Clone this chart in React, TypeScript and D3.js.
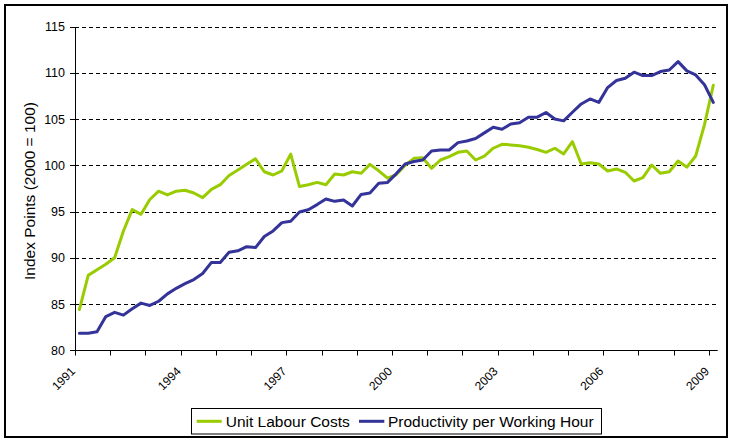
import React from "react";
import * as d3 from "d3";

// ---- data ----
const years = [1991, 1992, 1993, 1994, 1995, 1996, 1997, 1998, 1999, 2000, 2001, 2002, 2003, 2004, 2005, 2006, 2007, 2008, 2009];
const quarterNames = ["Q1", "Q2", "Q3", "Q4"];
const quarters: string[] = years.flatMap((y) => quarterNames.map((q) => `${y}${q}`)).slice(0, 73);

const unitLabourCosts = [
  84.4, 88.1, 88.7, 89.3, 90.0, 92.9, 95.2, 94.7, 96.3, 97.2, 96.8, 97.2, 97.3, 97.0, 96.5, 97.4,
  97.9, 98.9, 99.5, 100.1, 100.7, 99.3, 98.95, 99.4, 101.2, 97.7, 97.9, 98.15, 97.9, 99.05, 98.95, 99.3,
  99.13, 100.1, 99.4, 98.6, 99.0, 100.0, 100.75, 100.8, 99.67, 100.57, 100.93, 101.4, 101.55, 100.57, 101.0, 101.84,
  102.27, 102.2, 102.1, 101.95, 101.7, 101.4, 101.84, 101.22, 102.55, 100.14, 100.28, 100.14, 99.38, 99.6, 99.24, 98.3,
  98.66, 100.03, 99.13, 99.3, 100.46, 99.8, 101.0, 104.4, 108.65,
];

const productivity = [
  81.85, 81.85, 82.0, 83.65, 84.1, 83.8, 84.5, 85.1, 84.85, 85.3, 86.1, 86.7, 87.2, 87.65, 88.3, 89.5,
  89.5, 90.6, 90.75, 91.2, 91.1, 92.3, 92.9, 93.8, 93.95, 94.95, 95.2, 95.75, 96.35, 96.1, 96.25, 95.6,
  96.85, 97.0, 98.05, 98.15, 99.1, 100.14, 100.4, 100.57, 101.55, 101.65, 101.65, 102.45, 102.63, 102.9, 103.5, 104.1,
  103.9, 104.47, 104.6, 105.2, 105.2, 105.7, 105.0, 104.8, 105.73, 106.63, 107.17, 106.8, 108.4, 109.16, 109.4, 110.06,
  109.7, 109.7, 110.13, 110.3, 111.2, 110.2, 109.77, 108.7, 106.8,
];

const yTicks = [80, 85, 90, 95, 100, 105, 110, 115];

const seriesNames = ["Unit Labour Costs", "Productivity per Working Hour"];
const seriesColors = ["#99CC00", "#333399"];

// ---- layout ----
const W = 734;
const H = 444;
const LEFT = 75;
const RIGHT = 717.7;
const TOP = 26.5;
const BOTTOM = 350.3;
const FONT = "'Liberation Sans', Arial, Helvetica, sans-serif";

export default function App() {
  const x = d3.scaleBand<string>().domain(quarters).range([LEFT, RIGHT]).padding(0);
  const y = d3.scaleLinear().domain([80, 115]).range([BOTTOM, TOP]);
  const cx = (q: string) => (x(q) as number) + x.bandwidth() / 2;

  const line = d3
    .line<number>()
    .x((_, i) => cx(quarters[i]))
    .y((d) => y(d));

  const series = [unitLabourCosts, productivity];
  const crisp = (v: number) => Math.round(v) + 0.5;

  return (
    <svg
      width={W}
      height={H}
      style={{ position: "absolute", left: 0, top: 0, background: "#fff" }}
      fontFamily={FONT}
    >
      <rect x={5} y={5} width={722} height={432} fill="#fff" stroke="#000" strokeWidth={2} />

      {/* gridlines */}
      {yTicks
        .filter((v) => v !== 80)
        .map((v) => (
          <line
            key={`g${v}`}
            x1={LEFT}
            x2={RIGHT}
            y1={crisp(y(v))}
            y2={crisp(y(v))}
            stroke="#000"
            strokeWidth={1}
            strokeDasharray="4,3"
          />
        ))}

      {/* y axis */}
      <line x1={LEFT + 0.5} x2={LEFT + 0.5} y1={crisp(y(115))} y2={crisp(y(80))} stroke="#000" strokeWidth={1} />
      {yTicks.map((v) => (
        <g key={`yt${v}`}>
          <line x1={LEFT - 5} x2={LEFT} y1={crisp(y(v))} y2={crisp(y(v))} stroke="#000" strokeWidth={1} />
          <text x={65} y={y(v)} dy="0.36em" textAnchor="end" fontSize={12.5} fill="#000">
            {v}
          </text>
        </g>
      ))}

      {/* x axis */}
      <line x1={LEFT} x2={RIGHT} y1={crisp(y(80))} y2={crisp(y(80))} stroke="#000" strokeWidth={1} />
      {quarters.map((q, i) =>
        i % 4 === 0 ? (
          <line
            key={`xt${q}`}
            x1={crisp(x(q) as number)}
            x2={crisp(x(q) as number)}
            y1={crisp(y(80))}
            y2={crisp(y(80)) + 5}
            stroke="#000"
            strokeWidth={1}
          />
        ) : null
      )}
      {quarters.map((q, i) =>
        i % 12 === 0 ? (
          <text
            key={`xl${q}`}
            transform={`translate(${(x(q) as number) + 1},${372}) rotate(-45)`}
            textAnchor="end"
            fontSize={12}
            fill="#000"
          >
            {q.slice(0, 4)}
          </text>
        ) : null
      )}

      {/* axis title */}
      <text transform="translate(35,191) rotate(-90)" textAnchor="middle" fontSize={15.5} fill="#000">
        Index Points (2000 = 100)
      </text>

      {/* series */}
      {series.map((s, k) => (
        <path
          key={`s${k}`}
          d={line(s) as string}
          fill="none"
          stroke={seriesColors[k]}
          strokeWidth={3}
          strokeLinejoin="round"
          strokeLinecap="round"
        />
      ))}

      {/* legend */}
      <rect x={191.5} y={408.5} width={410} height={25.5} fill="#fff" stroke="#000" strokeWidth={1} />
      <line x1={196.7} x2={221.7} y1={421.3} y2={421.3} stroke={seriesColors[0]} strokeWidth={3} />
      <text x={225.7} y={427.3} fontSize={15.5} fill="#000">
        {seriesNames[0]}
      </text>
      <line x1={359} x2={384.3} y1={421.3} y2={421.3} stroke={seriesColors[1]} strokeWidth={3} />
      <text x={388} y={427.3} fontSize={15.5} fill="#000">
        {seriesNames[1]}
      </text>
    </svg>
  );
}
